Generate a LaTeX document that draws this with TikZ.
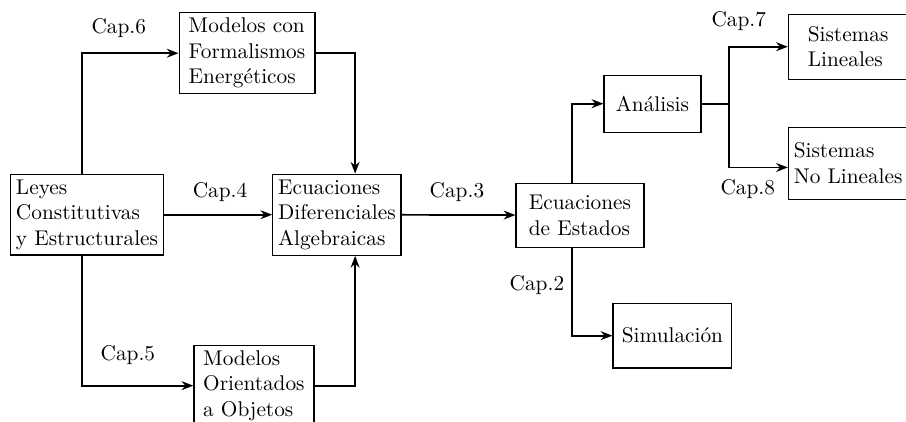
\documentclass[tikz,border=0pt]{standalone}
\usepackage{fontspec}
\usetikzlibrary{positioning, arrows.meta, calc}

\begin{document}
\begin{tikzpicture}[
    >=Stealth,
    % Styles
    block/.style={ % Chapter block
        rectangle,
        draw,
        semithick,
        align=left,
        inner sep=2.5pt
    },
    arrow/.style={
        -{Stealth[length=5.5pt, width=4.2pt]},
        thick
    },
    caplabel/.style={ % Chapter label
        inner sep=1pt
    }
]
    \useasboundingbox (0,0) rectangle (14.95,6.95);
    \clip (0,0) rectangle (14.95,6.95);

    % Modelling blocks
    \node[block] (leyes) at (1.436,3.407) {Leyes\\Constitutivas\\y Estructurales};
    \node[block, minimum width=2.24cm, minimum height=1.32cm] (formal) at (4.076,6.072) {Modelos con\\Formalismos\\Energ\'eticos};
    \node[block, minimum height=1.337cm] (ecdif) at (5.56,3.407) {Ecuaciones\\Diferenciales\\Algebraicas};
    \node[block, minimum width=1.98cm, minimum height=1.337cm] (objetos) at (4.19,0.586) {Modelos\\Orientados\\a Objetos};

    % Analysis blocks
    \node[block, minimum width=2.11cm, minimum height=1.056cm] (estados) at (9.57,3.399) {Ecuaciones\\de Estados};
    \node[block, minimum width=1.60cm, minimum height=0.94cm] (analisis) at (10.766,5.239) {An\'alisis};
    \node[block, minimum width=1.96cm, minimum height=1.07cm] (simulacion) at (11.096,1.411) {Simulaci\'on};
    \node[block, anchor=west, minimum width=1.97cm, minimum height=1.07cm] (lineales) at (13.0,6.179) {Sistemas\\Lineales};
    \node[block, anchor=west, minimum width=1.97cm, minimum height=1.19cm] (nolineales) at (13.0,4.257) {Sistemas\\No Lineales};

    % Connections
    \draw[arrow] ([xshift=-0.083cm]leyes.north) |- (formal);
    \draw[arrow] (formal) -| ([xshift=0.30cm]ecdif.north);
    \draw[arrow] (leyes) -- (ecdif);
    \draw[arrow] ([xshift=-0.083cm]leyes.south) |- (objetos);
    \draw[arrow] (objetos) -| ([xshift=0.30cm]ecdif.south);
    \draw[arrow] (ecdif) -- (estados);
    \draw[arrow] ([xshift=-0.13cm]estados.north) |- (analisis);
    \draw[arrow] ([xshift=-0.13cm]estados.south) |- (simulacion);
    \coordinate (split) at (12.03,5.239);
    \draw[thick] (analisis) -- (split);
    \draw[arrow] (split) |- (lineales);
    \draw[arrow] (split) |- ([yshift=-0.07cm]nolineales.west);

    % Chapter labels
    \node[caplabel] (cap6) at (1.96,6.485) {Cap.6};
    \node[caplabel] (cap4) at (3.63,3.78) {Cap.4};
    \node[caplabel] (cap5) at (2.11,1.089) {Cap.5};
    \node[caplabel] (cap3) at (7.54,3.78) {Cap.3};
    \node[caplabel] (cap2) at (8.86,2.244) {Cap.2};
    \node[caplabel] (cap7) at (12.19,6.60) {Cap.7};
    \node[caplabel] (cap8) at (12.34,3.828) {Cap.8};
\end{tikzpicture}
\end{document}
